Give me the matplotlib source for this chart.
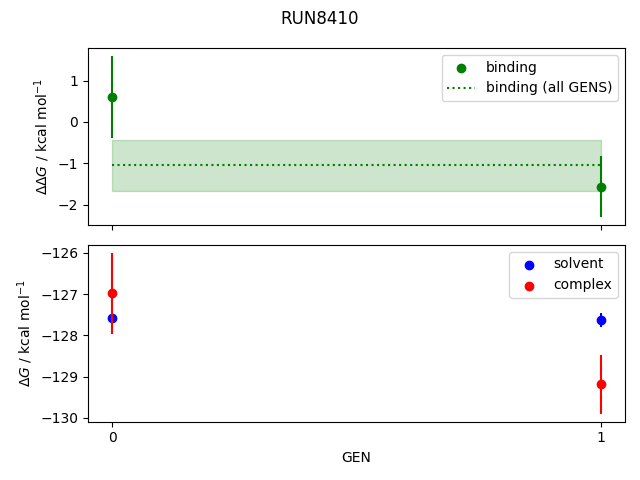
import numpy as np
import matplotlib
matplotlib.use("Agg")
import matplotlib.pyplot as plt


# values
gens = [0, 1]
binding = [0.60, -1.56]
binding_err = [0.99, 0.73]
binding_all = -1.05
binding_all_err = 0.62

solvent = [-127.58, -127.64]
solvent_err = [0.05, 0.17]
complex_ = [-126.98, -129.19]
complex_err = [0.98, 0.71]

run_name = "RUN8410"


fig, (ax1, ax2) = plt.subplots(2, 1, sharex=True, figsize=(6.4, 4.8), dpi=100)

# top panel - relative binding free energy
ax1.scatter(gens, binding, color="green", label="binding")
ax1.errorbar(gens, binding, yerr=binding_err, fmt="none", ecolor="green")
ax1.hlines(binding_all, gens[0], gens[-1], color="green", linestyle=":",
           label="binding (all GENS)")
ax1.fill_between(gens, binding_all - binding_all_err, binding_all + binding_all_err,
                 color="green", alpha=0.2)
ax1.set_ylabel(r"$\Delta\Delta G$ / kcal mol$^{-1}$")
ax1.legend()

# bottom panel - solvent / complex legs
ax2.scatter(gens, solvent, color="blue", label="solvent")
ax2.errorbar(gens, solvent, yerr=solvent_err, fmt="none", ecolor="blue")
ax2.scatter(gens, complex_, color="red", label="complex")
ax2.errorbar(gens, complex_, yerr=complex_err, fmt="none", ecolor="red")
ax2.set_ylabel(r"$\Delta G$ / kcal mol$^{-1}$")
ax2.set_xlabel("GEN")
ax2.set_xticks(gens)
ax2.legend()

fig.suptitle(run_name)
fig.tight_layout()
fig.savefig("out.png")
